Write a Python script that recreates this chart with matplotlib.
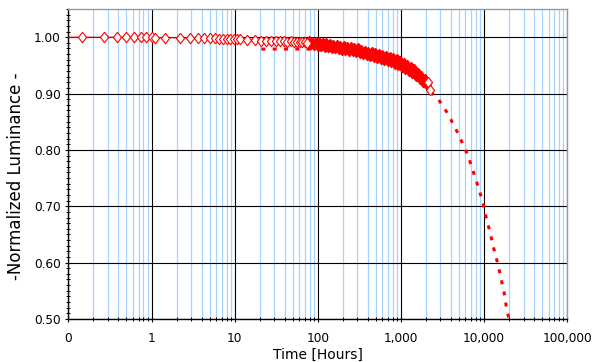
import matplotlib
matplotlib.use('Agg')
import matplotlib.pyplot as plt
from matplotlib.ticker import FixedLocator, LogLocator, MultipleLocator, NullFormatter

# measured luminance (hours, normalized)
t_meas = [0.145, 0.266, 0.38, 0.50, 0.62, 0.75, 0.87, 1.00, 1.11, 1.46,
          2.19, 2.89, 3.65, 4.31, 5.0, 5.74, 6.47, 7.23, 8.0, 8.88,
          9.7, 10.6, 11.5, 14.2, 17.6, 21.0, 24.0, 27.6, 31.1, 34.8,
          38.8, 43.0, 47.3, 51.9, 56.2, 60.6, 65.5, 69.7, 74.3,
          78, 82, 86, 90, 95, 100, 105, 110, 115, 121,
          127, 133, 140, 147, 154, 162, 170, 178, 187, 196,
          206, 216, 227, 238, 250, 263, 276, 290, 304, 319,
          335, 352, 370, 388, 408, 428, 449, 472, 495, 520,
          546, 573, 602, 632, 664, 697, 732, 768, 807, 847,
          889, 934, 980, 1030, 1080, 1135, 1190, 1250, 1310, 1380,
          1450, 1520, 1600, 1680, 1760, 1850, 1940, 2040, 2130, 2230]
lum_meas = [1.000, 1.000, 1.000, 1.000, 1.000, 1.000, 1.000, 1.000, 0.999, 0.999,
            0.999, 0.999, 0.998, 0.998, 0.998, 0.998, 0.997, 0.997, 0.997, 0.997,
            0.997, 0.996, 0.996, 0.995, 0.995, 0.994, 0.994, 0.993, 0.994, 0.993,
            0.993, 0.992, 0.993, 0.992, 0.991, 0.992, 0.991, 0.991, 0.990,
            0.993, 0.988, 0.992, 0.987, 0.991, 0.985, 0.991, 0.984, 0.990, 0.983,
            0.989, 0.982, 0.988, 0.981, 0.987, 0.980, 0.986, 0.979, 0.985, 0.978,
            0.984, 0.977, 0.983, 0.976, 0.982, 0.975, 0.981, 0.974, 0.980, 0.972,
            0.978, 0.971, 0.976, 0.968, 0.974, 0.966, 0.973, 0.965, 0.972, 0.963,
            0.970, 0.962, 0.969, 0.960, 0.967, 0.958, 0.965, 0.956, 0.963, 0.953,
            0.961, 0.951, 0.958, 0.948, 0.955, 0.944, 0.951, 0.940, 0.947, 0.936,
            0.943, 0.931, 0.937, 0.926, 0.931, 0.920, 0.926, 0.915, 0.921, 0.907]

# fitted extrapolation
t_fit = [21, 40, 75, 150, 300, 600, 1000, 1500, 2000, 2770, 3580,
         4500, 5400, 6470, 7430, 8550, 9640, 10570, 11800, 12940,
         14450, 15900, 17400, 18560, 20000]
lum_fit = [0.979, 0.979, 0.979, 0.976, 0.970, 0.960, 0.947, 0.928, 0.910, 0.892, 0.867,
           0.840, 0.815, 0.789, 0.762, 0.734, 0.709, 0.682, 0.655, 0.629,
           0.602, 0.575, 0.549, 0.523, 0.500]

x_ticks = [0.1, 1, 10, 100, 1000, 10000, 100000]
x_labels = ['0', '1', '10', '100', '1,000', '10,000', '100,000']
y_ticks = [0.5, 0.6, 0.7, 0.8, 0.9, 1.0]

fig = plt.figure(figsize=(6, 3.62), dpi=100)
ax = fig.add_axes([0.114, 0.119, 0.831, 0.856])

diamond = [(0, 1), (0.78, 0), (0, -1), (-0.78, 0), (0, 1)]
n_open = 39

# line through all points (starts at left edge)
ax.plot([0.05] + t_meas, [1.0] + lum_meas, color='red', lw=0.8, zorder=3)
# dense part merges into a solid band
ax.plot(t_meas[n_open:-2], lum_meas[n_open:-2], ls='none', marker=diamond, ms=7.5,
        mfc='red', mec='red', mew=0.8, zorder=4)
ax.plot(t_meas[:n_open] + t_meas[-2:], lum_meas[:n_open] + lum_meas[-2:], ls='none',
        marker=diamond, ms=7.5, mfc='white', mec='red', mew=0.8, zorder=5)
ax.plot(t_fit, lum_fit, color='red', lw=2.2, ls=(0, (1.3, 2.4)),
        dash_capstyle='butt', zorder=2)

ax.set_xscale('log')
ax.set_xlim(0.1, 100000)
ax.set_ylim(0.5, 1.05)

ax.xaxis.set_major_locator(FixedLocator(x_ticks))
ax.set_xticklabels(x_labels)
ax.xaxis.set_minor_locator(LogLocator(base=10, subs=range(2, 10), numticks=20))
ax.xaxis.set_minor_formatter(NullFormatter())
ax.yaxis.set_major_locator(FixedLocator(y_ticks))
ax.set_yticklabels(['%.2f' % v for v in y_ticks])
ax.yaxis.set_minor_locator(MultipleLocator(0.01))

ax.grid(which='major', color='black', lw=0.8)
ax.grid(which='minor', axis='x', color='#a6d2ff', lw=0.9)
ax.set_axisbelow(True)

ax.tick_params(which='major', direction='inout', length=5, width=0.8,
               labelsize=8.7, color='black', top=False, right=False)
ax.tick_params(which='minor', direction='inout', length=3, width=0.7,
               color='black', top=False, right=False)
ax.tick_params(axis='x', which='major', pad=7)
ax.tick_params(axis='y', which='major', pad=3)

for s in ['top', 'right']:
    ax.spines[s].set_color('#999999')
    ax.spines[s].set_linewidth(1.0)
for s in ['left', 'bottom']:
    ax.spines[s].set_color('black')
    ax.spines[s].set_linewidth(1.0)

ax.set_ylabel('-Normalized Luminance -', fontsize=12)
ax.yaxis.set_label_coords(-0.087, 0.46)
ax.set_xlabel('Time [Hours]', fontsize=10)
ax.xaxis.set_label_coords(0.5, -0.092)

fig.savefig('out.png', dpi=100)
